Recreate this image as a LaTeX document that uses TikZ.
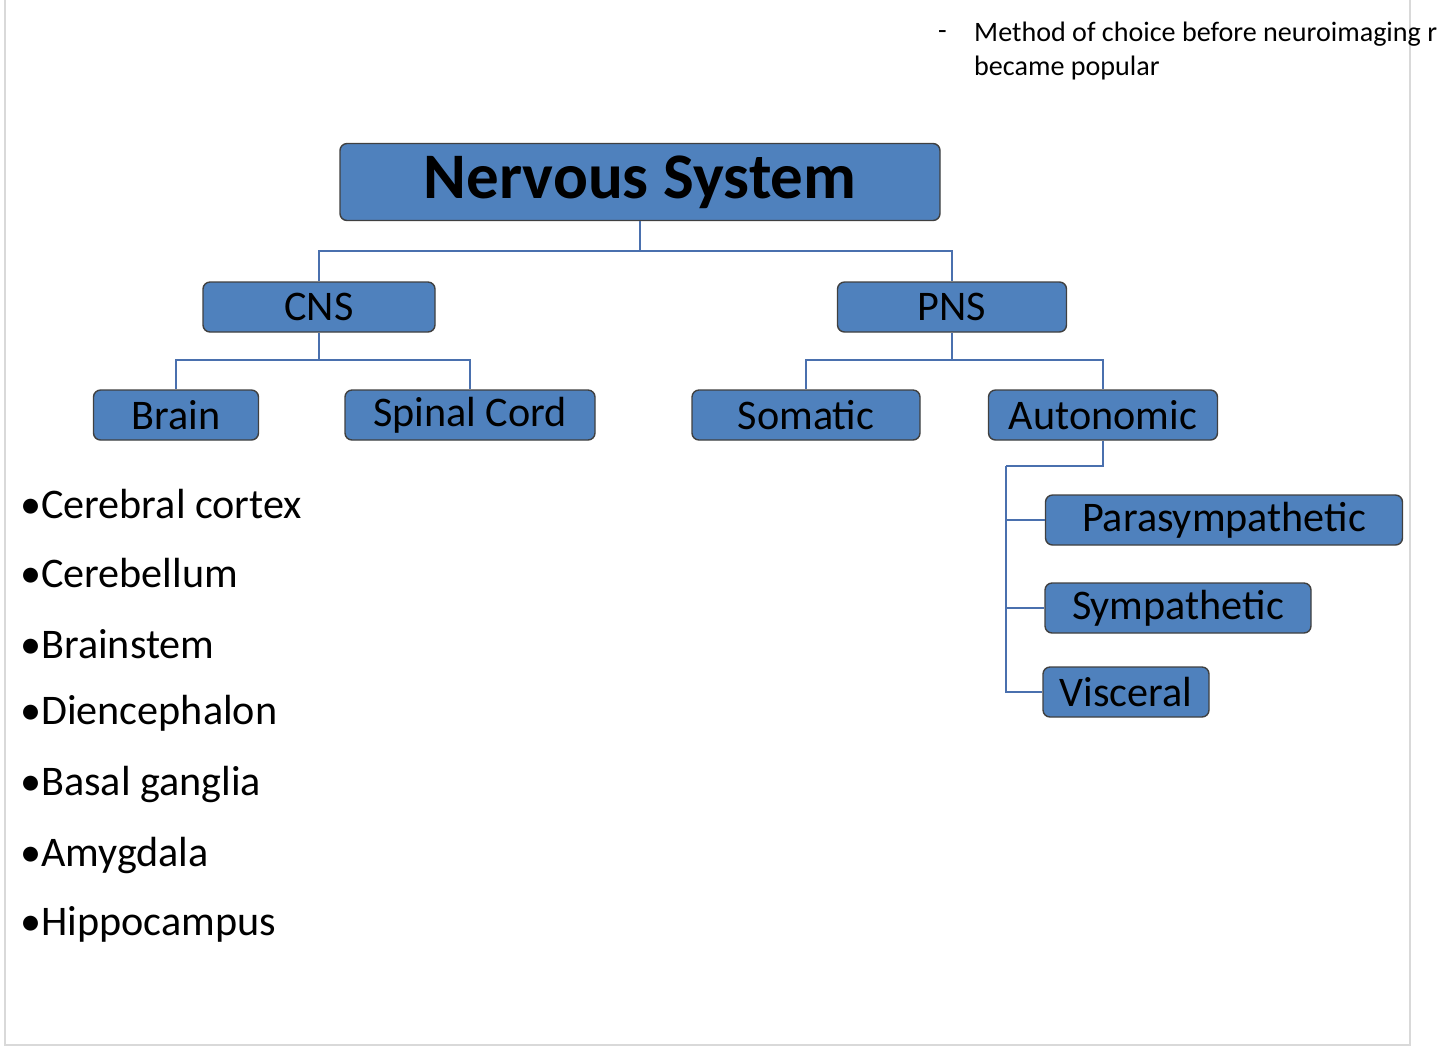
\documentclass[tikz,border=0pt]{standalone}
\usepackage{fontspec}
\setmainfont{Carlito}
\usetikzlibrary{positioning}
\newlength\px
\setlength\px{0.02cm}
\definecolor{boxblue}{HTML}{4F81BD}
\definecolor{linkblue}{HTML}{4A70AE}
\begin{document}
\begin{tikzpicture}
    [x=\px,y=-\px,
    box/.style={
      rectangle,
      draw=black!75,
      thick,
      fill=boxblue,
      rounded corners=4pt,
      inner sep=0pt,
      minimum height=50\px,
      font=\fontsize{24}{28}\selectfont
    },
    topbox/.style={
      box,
      minimum height=77\px,
      font=\fontsize{37}{42}\selectfont\bfseries
    },
    link/.style={
      draw=linkblue,
      line width=1.4pt
    },
    item/.style={
      anchor=west,
      font=\fontsize{24}{28}\selectfont
    },
    note/.style={
      anchor=west,
      font=\fontsize{16}{20}\selectfont
    }
  ]
    \useasboundingbox (0,0) rectangle (1440,1056);
    \draw[black!15, line width=1pt] (5,0) -- (5,1045) -- (1410,1045) -- (1410,0);
    % headline note
    \node[note] (dash) at (932,35) {-};
    \node[note] (note1) at (968,34) {Method of choice before neuroimaging r};
    \node[note] (note2) at (968,68) {became popular};
    % boxes
    \node[topbox, minimum width=600\px] (ns) at (640,182) {Nervous System};
    \node[box, minimum width=232\px] (cns) at (319,307) {CNS};
    \node[box, minimum width=229\px] (pns) at (952,307) {PNS};
    \node[box, minimum width=165\px] (brain) at (176,415) {Brain};
    \node[box, minimum width=250\px] (spinal) at (470,415) {Spinal Cord};
    \node[box, minimum width=228\px] (somatic) at (806,415) {Somatic};
    \node[box, minimum width=229\px] (auto) at (1103,415) {Autonomic};
    \node[box, minimum width=357\px] (para) at (1224,520) {Parasympathetic};
    \node[box, minimum width=266\px] (symp) at (1178,608) {Sympathetic};
    \node[box, minimum width=166\px] (visc) at (1126,692) {Visceral};
    % connectors
    \coordinate (j1) at (640,251);
    \coordinate (j2) at (319,360);
    \coordinate (j3) at (952,360);
    \coordinate (j4) at (1006,466);
    \path[link] (ns.south) -- (j1);
    \path[link] (j1) -| (cns.north);
    \path[link] (j1) -| (pns.north);
    \path[link] (cns.south) -- (j2);
    \path[link] (j2) -| (brain.north);
    \path[link] (j2) -| (spinal.north);
    \path[link] (pns.south) -- (j3);
    \path[link] (j3) -| (somatic.north);
    \path[link] (j3) -| (auto.north);
    \path[link] (auto.south) |- (j4);
    \path[link] (j4) |- (visc.west);
    \path[link] (j4 |- para.west) -- (para.west);
    \path[link] (j4 |- symp.west) -- (symp.west);
    % brain parts
    \foreach \name/\y in {Cerebral cortex/504, Cerebellum/573, Brainstem/644,
      Diencephalon/713, Basal ganglia/784, Amygdala/855, Hippocampus/924}
      \node[item] at (14,\y) {\textbullet\name};
\end{tikzpicture}
\end{document}
